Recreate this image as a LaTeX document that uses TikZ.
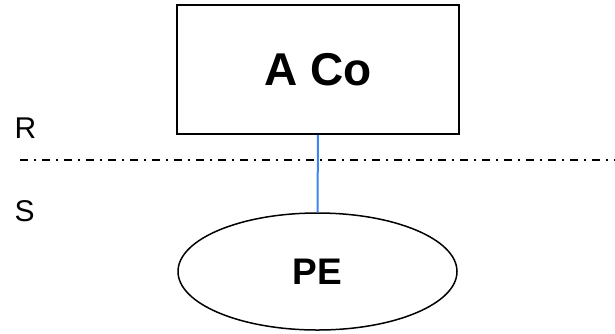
\documentclass[tikz,border=0pt]{standalone}
\usepackage{fontspec}
\setmainfont{Liberation Sans}
\usetikzlibrary{shapes.geometric}
\definecolor{linkblue}{RGB}{62,132,242}

\begin{document}
\begin{tikzpicture}[x=1pt, y=-1pt, every node/.style={inner sep=0pt}, box/.style={draw, line width=1.5pt, minimum width=282pt, minimum height=129pt, font=\fontsize{46}{54}\selectfont\bfseries}, oval/.style={draw, ellipse, line width=1.5pt, minimum width=279pt, minimum height=117pt, font=\fontsize{37}{44}\selectfont\bfseries}, side/.style={anchor=base west, font=\fontsize{30}{36}\selectfont}]
	\useasboundingbox (0,0) rectangle (615,333);
	\node[box] (aco) at (318,69.5) {A Co};
	\node[oval] (pe) at (317.5,271.5) {PE};
	\node[side] (r) at (14.5,138) {R};
	\node[side] (s) at (14.5,221) {S};
	\coordinate (cutL) at (20,160);
	\coordinate (cutR) at (615,160);
	\draw[line width=1.5pt, dash pattern=on 8pt off 6pt on 2pt off 6pt] (cutL) -- (cutR);
	\draw[linkblue, line width=2pt] (aco) -- (pe);
	\end{tikzpicture}
\end{document}
